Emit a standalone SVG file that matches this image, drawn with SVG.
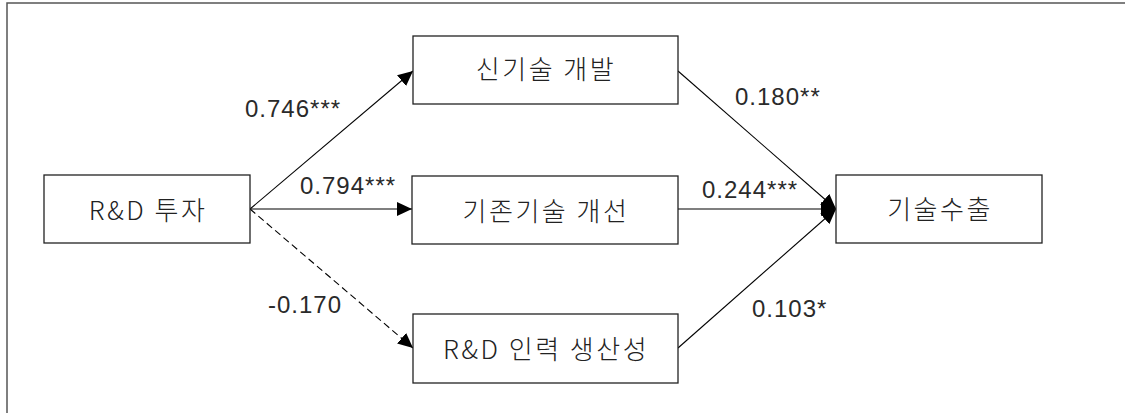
<svg xmlns="http://www.w3.org/2000/svg" width="1125" height="413" viewBox="0 0 1125 413">
  <style>
    .frame { fill: none; stroke: #555; stroke-width: 1.5; }
    .box { fill: #fff; stroke: #222; stroke-width: 1.3; }
    .name { font-family: "Noto Sans CJK KR", "Liberation Sans", sans-serif; font-size: 26px; font-weight: 300; letter-spacing: 2.5px; fill: #222; text-anchor: middle; dominant-baseline: central; }
    .coef { font-family: "Liberation Sans", "Noto Sans CJK KR", sans-serif; font-size: 24px; letter-spacing: 1px; fill: #2a2a2a; }
    .edge { fill: none; stroke: #000; stroke-width: 1.1; marker-end: url(#head); }
    .dashed { stroke-dasharray: 7 4; }
  </style>
  <defs>
    <marker id="head" markerUnits="userSpaceOnUse" markerWidth="16" markerHeight="14" refX="15" refY="7" orient="auto">
      <path d="M0,0 L15,7 L0,14 Z" fill="#000"/>
    </marker>
  </defs>

  <rect width="1125" height="413" fill="#fff"/>
  <path class="frame" d="M7,413 V3 H1125"/>

  <g id="connectors">
    <line class="edge" x1="250" y1="209" x2="413" y2="71"/>
    <line class="edge" x1="250" y1="209" x2="412" y2="209"/>
    <line class="edge dashed" x1="250" y1="209" x2="413" y2="348"/>
    <line class="edge" x1="678" y1="71" x2="836" y2="209"/>
    <line class="edge" x1="678" y1="209" x2="836" y2="209"/>
    <line class="edge" x1="678" y1="348" x2="836" y2="209"/>
  </g>

  <g id="coefficients">
    <text class="coef" x="245" y="117">0.746***</text>
    <text class="coef" x="300" y="194">0.794***</text>
    <text class="coef" x="268" y="313">-0.170</text>
    <text class="coef" x="735" y="105">0.180**</text>
    <text class="coef" x="702" y="198">0.244***</text>
    <text class="coef" x="752" y="317">0.103*</text>
  </g>

  <g id="rd-investment">
    <rect class="box" x="44" y="175" width="206" height="68"/>
    <text class="name" x="148" y="208">R&amp;D 투자</text>
  </g>
  <g id="new-tech">
    <rect class="box" x="413" y="36" width="265" height="68"/>
    <text class="name" x="546" y="67">신기술 개발</text>
  </g>
  <g id="existing-tech">
    <rect class="box" x="412" y="176" width="266" height="68"/>
    <text class="name" x="546" y="209">기존기술 개선</text>
  </g>
  <g id="rd-productivity">
    <rect class="box" x="413" y="314" width="265" height="69"/>
    <text class="name" x="546" y="347">R&amp;D 인력 생산성</text>
  </g>
  <g id="tech-export">
    <rect class="box" x="836" y="175" width="206" height="68"/>
    <text class="name" x="940" y="207">기술수출</text>
  </g>
</svg>
